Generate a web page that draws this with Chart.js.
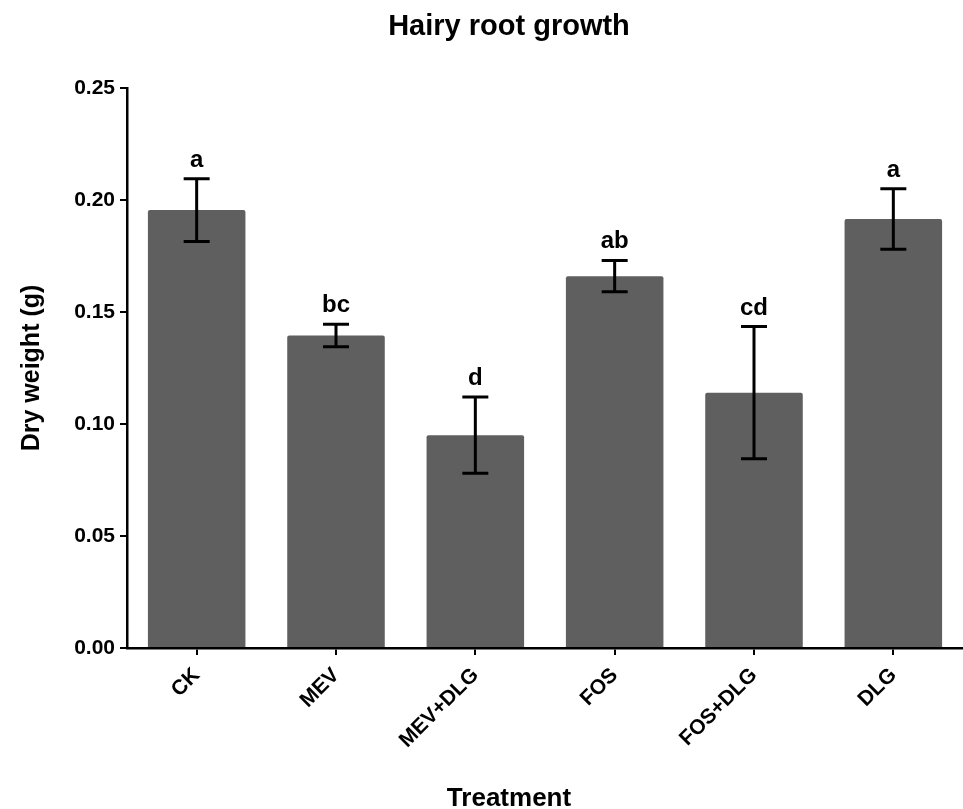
<!DOCTYPE html>
<html>
<head>
<meta charset="utf-8">
<title>Hairy root growth</title>
<script src="https://cdn.jsdelivr.net/npm/chart.js@4.4.1/dist/chart.umd.min.js"></script>
<style>
    html, body { margin: 0; padding: 0; background: #ffffff; }
    #wrap { width: 963px; height: 809px; }
</style>
</head>
<body>
<div id="wrap"><canvas id="rootChart" width="963" height="809"></canvas></div>
<script>
// Hairy root growth - dry weight per treatment

const treatments = ['CK', 'MEV', 'MEV+DLG', 'FOS', 'FOS+DLG', 'DLG'];
const dryWeight = [0.1955, 0.1395, 0.095, 0.166, 0.114, 0.1915];
const dryWeightErr = [0.014, 0.005, 0.017, 0.007, 0.0295, 0.0135];
const groupLetters = ['a', 'bc', 'd', 'ab', 'cd', 'a'];
const yTicks = [0, 0.05, 0.10, 0.15, 0.20, 0.25];

const FONT = "'Liberation Sans', Arial, Helvetica, sans-serif";

// Draw error bars and significance letters on top of each bar
const errorBarPlugin = {
    id: 'errorBars',
    afterDatasetsDraw(chart) {
        const ctx = chart.ctx;
        const yScale = chart.scales.y;
        const meta = chart.getDatasetMeta(0);

        ctx.save();
        ctx.strokeStyle = '#000000';
        ctx.lineWidth = 3;
        ctx.lineCap = 'butt';

        meta.data.forEach((bar, i) => {
            const value = dryWeight[i];
            const err = dryWeightErr[i];
            const x = bar.x;
            const yTop = yScale.getPixelForValue(value + err);
            const yBot = yScale.getPixelForValue(value - err);
            const cap = 13;

            ctx.beginPath();
            ctx.moveTo(x, yTop);
            ctx.lineTo(x, yBot);
            ctx.moveTo(x - cap, yTop);
            ctx.lineTo(x + cap, yTop);
            ctx.moveTo(x - cap, yBot);
            ctx.lineTo(x + cap, yBot);
            ctx.stroke();

            ctx.fillStyle = '#000000';
            ctx.font = 'bold 24px ' + FONT;
            ctx.textAlign = 'center';
            ctx.textBaseline = 'alphabetic';
            ctx.fillText(groupLetters[i], x, yTop - 12);
        });
        ctx.restore();
    }
};

// Chart title and x axis title, centred the way the original figure has them
const headingsPlugin = {
    id: 'headings',
    afterDraw(chart) {
        const ctx = chart.ctx;
        ctx.save();
        ctx.fillStyle = '#000000';
        ctx.textAlign = 'center';
        ctx.textBaseline = 'alphabetic';
        ctx.font = 'bold 29px ' + FONT;
        ctx.fillText('Hairy root growth', 509, 35);
        ctx.font = 'bold 26px ' + FONT;
        ctx.fillText('Treatment', 509, 806);
        ctx.restore();
    }
};

const ctx = document.getElementById('rootChart');

new Chart(ctx, {
    type: 'bar',
    data: {
        labels: treatments,
        datasets: [
            {
                label: 'Dry weight (g)',
                data: dryWeight,
                backgroundColor: '#5f5f5f',
                borderWidth: 0,
                borderRadius: 2,
                barPercentage: 0.7,
                categoryPercentage: 1.0
            }
        ]
    },
    options: {
        responsive: false,
        animation: false,
        layout: {
            padding: { top: 88, right: 0, bottom: 0, left: 0 }
        },
        plugins: {
            legend: { display: false },
            tooltip: { enabled: false },
            title: { display: false }
        },
        scales: {
            x: {
                offset: true,
                afterFit: (scale) => { scale.height = 161; },
                grid: {
                    display: true,
                    offset: false,
                    drawOnChartArea: false,
                    drawTicks: true,
                    tickLength: 7,
                    color: '#000000',
                    lineWidth: 2
                },
                border: { display: true, color: '#000000', width: 2.5 },
                ticks: {
                    autoSkip: false,
                    minRotation: 45,
                    maxRotation: 45,
                    padding: 8,
                    color: '#000000',
                    font: { family: FONT, size: 21, weight: 'bold' }
                }
            },
            y: {
                min: 0,
                max: 0.25,
                afterFit: (scale) => { scale.width = 127; },
                afterBuildTicks: (scale) => {
                    scale.ticks = yTicks.map(v => ({ value: v }));
                },
                grid: {
                    display: true,
                    drawOnChartArea: false,
                    drawTicks: true,
                    tickLength: 7,
                    color: '#000000',
                    lineWidth: 2
                },
                border: { display: true, color: '#000000', width: 2.5 },
                ticks: {
                    padding: 5,
                    color: '#000000',
                    font: { family: FONT, size: 21, weight: 'bold' },
                    callback: (value) => Number(value).toFixed(2)
                },
                title: {
                    display: true,
                    text: 'Dry weight (g)',
                    color: '#000000',
                    font: { family: FONT, size: 25, weight: 'bold' },
                    padding: { top: 17, bottom: 0 }
                }
            }
        }
    },
    plugins: [errorBarPlugin, headingsPlugin]
});
</script>
</body>
</html>
